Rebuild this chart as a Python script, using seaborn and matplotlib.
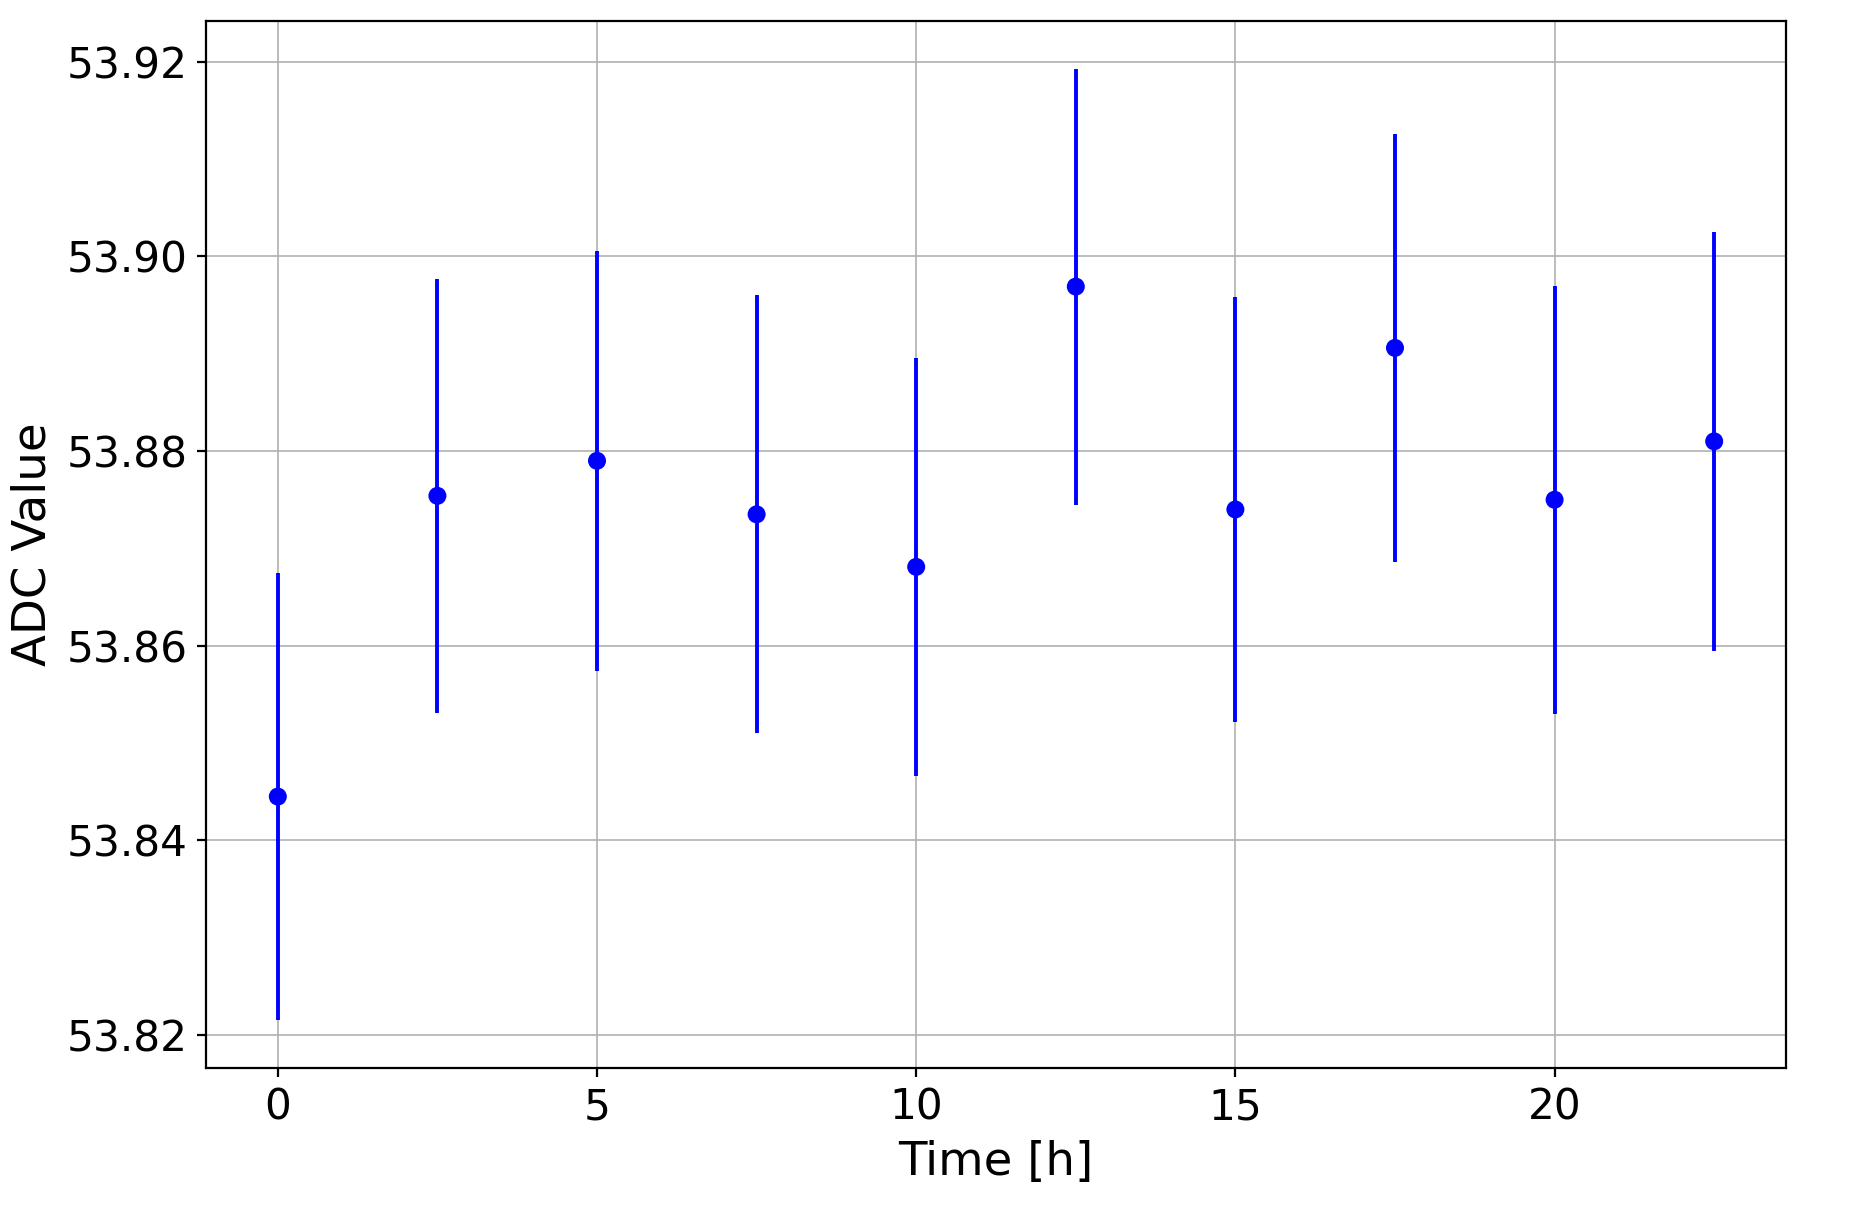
import matplotlib
matplotlib.use("Agg")
import matplotlib.pyplot as plt
import seaborn as sns
import pandas as pd

time_h = [0, 2.5, 5, 7.5, 10, 12.5, 15, 17.5, 20, 22.5]
adc_value = [53.8445, 53.8754, 53.8790, 53.8735, 53.8681,
             53.8969, 53.8740, 53.8906, 53.8750, 53.8810]
adc_err = [0.0230, 0.0223, 0.0216, 0.0225, 0.0215,
           0.0224, 0.0218, 0.0220, 0.0220, 0.0215]

df = pd.DataFrame({'Time [h]': time_h, 'ADC Value': adc_value,
                   'err': adc_err})

fig = plt.figure(figsize=(9.3, 6.05), dpi=200)
ax = fig.add_axes([206 / 1860, 1 - 1068 / 1210,
                   (1786 - 206) / 1860, (1068 - 21) / 1210])

# vertical error bars, no caps
ax.errorbar(df['Time [h]'], df['ADC Value'], yerr=df['err'],
            fmt='none', ecolor='blue', elinewidth=1.4, capsize=0,
            zorder=2)
sns.scatterplot(data=df, x='Time [h]', y='ADC Value', color='blue',
                s=42, edgecolor='none', ax=ax, zorder=3)

ax.grid(True, color='#b0b0b0', linewidth=0.6)
ax.set_axisbelow(True)
ax.set_yticks([53.82, 53.84, 53.86, 53.88, 53.90, 53.92])
ax.set_xticks([0, 5, 10, 15, 20])
ax.tick_params(labelsize=15.2, length=3.2, width=0.8)
ax.set_xlabel('Time [h]', fontsize=16.8)
ax.set_ylabel('ADC Value', fontsize=16.8)
for sp in ax.spines.values():
    sp.set_linewidth(0.8)

fig.savefig('out.png', dpi=200)
